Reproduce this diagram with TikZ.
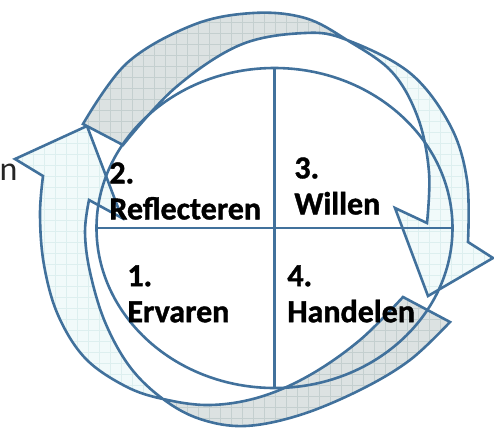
\documentclass[tikz,border=0pt]{standalone}
\usepackage{fontspec}
\setmainfont{Carlito}
\usetikzlibrary{shapes.geometric}
\definecolor{rimblue}{RGB}{65,113,156}
\definecolor{backgrey}{RGB}{220,226,226}
\definecolor{backgrid}{RGB}{196,207,207}
\definecolor{frontcyan}{RGB}{241,250,250}
\definecolor{frontgrid}{RGB}{221,239,239}
% ribbon outlines, traced in pixels
\newcommand{\upperribbon}{plot[smooth,tension=0.6] coordinates {(83,124) (127,63) (193,25) (253,13) (305,18) (347,40) (392,72) (418,118) (429,172) (427,223)} -- (395,208) -- (428,296) -- (493,258) -- (468,242) -- plot[smooth,tension=0.6] coordinates {(468,242) (467,180) (450,125) (410,73) (347,40) (305,33) (240,45) (175,88) (123,145)} -- cycle}
\newcommand{\lowerribbon}{plot[smooth,tension=0.6] coordinates {(450,322) (410,360) (360,390) (300,415) (245,426) (200,419) (163,399) (130,367) (105,322) (90,272) (85,232) (89,200)} -- (122,218) -- (87,126) -- (15,159) -- (43,176) -- plot[smooth,tension=0.6] coordinates {(43,176) (40,215) (44,265) (58,315) (85,358) (125,386) (163,399) (210,405) (260,397) (310,375) (360,340) (403,297)} -- cycle}
\begin{document}
\begin{tikzpicture}[x=0.5pt,y=-0.5pt,
  rim/.style={draw=rimblue,line width=1.3pt},
  gridline/.style={line width=0.3pt},
  stage/.style={font=\fontsize{16}{18}\selectfont\bfseries\addfontfeature{FakeBold=1.2},align=left,anchor=north west,inner sep=0pt}]
\useasboundingbox (0,0) rectangle (494,430);
% lower ribbon
\begin{scope}
\clip \lowerribbon;
\fill[frontcyan] (0,0) rectangle (494,430);
\foreach \g in {0,11,...,495} {\draw[gridline,frontgrid] (\g,0) -- (\g,430); \draw[gridline,frontgrid] (0,\g) -- (494,\g);}
\clip (163,0) rectangle (494,430);
\fill[backgrey] (0,0) rectangle (494,430);
\foreach \g in {0,11,...,495} {\draw[gridline,backgrid] (\g,0) -- (\g,430); \draw[gridline,backgrid] (0,\g) -- (494,\g);}
\end{scope}
\draw[rim] \lowerribbon;
% upper ribbon
\begin{scope}
\clip \upperribbon;
\fill[frontcyan] (0,0) rectangle (494,430);
\foreach \g in {0,11,...,495} {\draw[gridline,frontgrid] (\g,0) -- (\g,430); \draw[gridline,frontgrid] (0,\g) -- (494,\g);}
\clip (0,0) rectangle (347,430);
\fill[backgrey] (0,0) rectangle (494,430);
\foreach \g in {0,11,...,495} {\draw[gridline,backgrid] (\g,0) -- (\g,430); \draw[gridline,backgrid] (0,\g) -- (494,\g);}
\end{scope}
\draw[rim] \upperribbon;
% the four quarters
\node[rim,ellipse,minimum width=178pt,minimum height=160pt,inner sep=0pt,outer sep=0pt] (core) at (274.5,228) {};
\draw[rim] (core.north) -- (core.south);
\draw[rim] (core.west) -- (core.east);
\node[stage] (reflecteren) at (109,162) {2.\\Reflecteren};
\node[stage] (willen) at (294,157) {3.\\Willen};
\node[stage] (ervaren) at (127,265) {1.\\Ervaren};
\node[stage] (handelen) at (287,265) {4.\\Handelen};
\node[font=\fontsize{17}{20}\selectfont,text=black!85,anchor=base east,inner sep=0pt] (cutword) at (18,180) {n};
\end{tikzpicture}
\end{document}
